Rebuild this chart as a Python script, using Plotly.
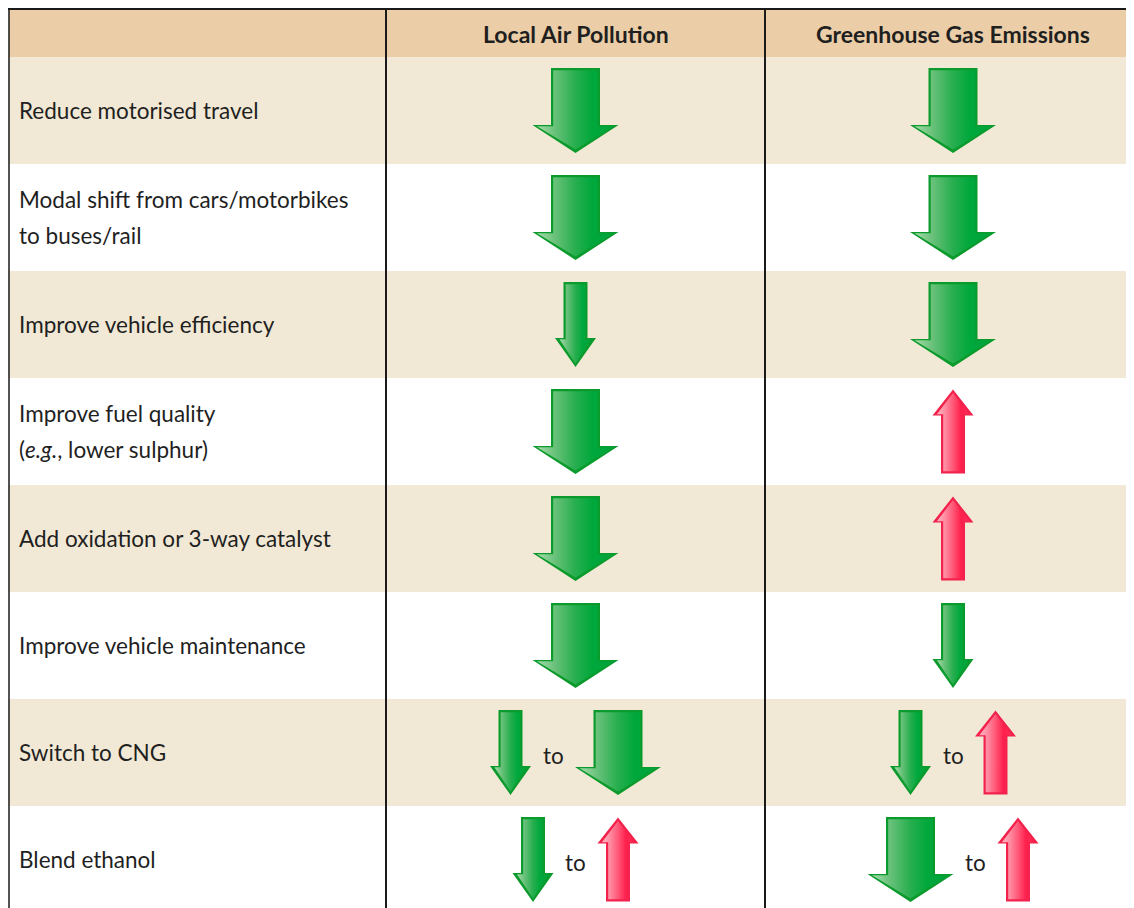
import plotly.graph_objects as go

# ---------------- data ----------------
measures = [
    ["Reduce motorised travel"],
    ["Modal shift from cars/motorbikes", "to buses/rail"],
    ["Improve vehicle efficiency"],
    ["Improve fuel quality", "(<i>e.g.</i>, lower sulphur)"],
    ["Add oxidation or 3-way catalyst"],
    ["Improve vehicle maintenance"],
    ["Switch to CNG"],
    ["Blend ethanol"],
]
impact_columns = ["Local Air Pollution", "Greenhouse Gas Emissions"]
air_pollution_effect = [
    ["down_large"], ["down_large"], ["down_small"], ["down_large"],
    ["down_large"], ["down_large"], ["down_small", "down_large"], ["down_small", "up"],
]
ghg_effect = [
    ["down_large"], ["down_large"], ["down_large"], ["up"],
    ["up"], ["down_small"], ["down_small", "up"], ["down_large", "up"],
]
range_word = "to"

# ---------------- layout / style ----------------
W, H = 1134, 908
PAGE_OFFSET = 8  # default body margin of the page
HEADER_TOP, HEADER_BOTTOM, ROW_H = 8, 57, 107
COL_EDGES = [8.5, 386, 765, 1134]
COL_CENTERS = [575.5, 953]
LABEL_X = 20
LINE_GAP = 36
GAP = 12
TO_W = 20
HEADER_BG = "#EBCEA7"
STRIPE_BG = "#F1E9D5"
LINE_COLOR = "#1a1a1a"
TEXT_COLOR = "#1f1f1f"
FONT = "Lato"
LABEL_SIZE = 22.5
HEADER_SIZE = 23

ARROWS = {
    "down_large": dict(ws=24.5, wh=43, hh=28, L=85, up=False),
    "down_small": dict(ws=12, wh=20.5, hh=29, L=85, up=False),
    "up": dict(ws=12, wh=20.5, hh=26, L=84, up=True),
}
GREEN = dict(edge="#0b9a2c",
             scale=[[0, "#a5dcab"], [0.22, "#6cc27c"], [0.5, "#27ae4e"], [0.72, "#00a83c"], [1, "#00a23a"]])
RED = dict(edge="#f2224c",
           scale=[[0, "#ffb7c3"], [0.22, "#ff92a6"], [0.52, "#ff5474"], [0.75, "#ff1f4c"], [1, "#ff2d57"]])


def arrow_points(kind, cx, cy, inset=0.0):
    a = ARROWS[kind]
    ws, wh, hh, L = a["ws"] - inset, a["wh"] - 2 * inset, a["hh"], a["L"]
    top = cy - L / 2 + inset
    bot = cy + L / 2 - 1.6 * inset
    base = cy + L / 2 - hh + 0.6 * inset
    xs = [cx - ws, cx + ws, cx + ws, cx + wh, cx, cx - wh, cx - ws, cx - ws]
    ys = [top, top, base, base, bot, base, base, top]
    if a["up"]:
        ys = [2 * cy - y for y in ys]
    return xs, ys


fig = go.Figure()


def add_arrow(kind, cx, cy):
    pal = RED if ARROWS[kind]["up"] else GREEN
    xs, ys = arrow_points(kind, cx, cy)
    fig.add_trace(go.Scatter(x=xs, y=ys, fill="toself", mode="none", fillcolor=pal["edge"],
                             hoverinfo="skip", showlegend=False))
    xs, ys = arrow_points(kind, cx, cy, inset=2.2)
    fig.add_trace(go.Scatter(x=xs, y=ys, fill="toself", mode="none",
                             fillgradient=dict(type="horizontal", colorscale=pal["scale"]),
                             hoverinfo="skip", showlegend=False))


def item_width(kind):
    return 2 * ARROWS[kind]["wh"]


shapes = []
annotations = []

# header band
shapes.append(dict(type="rect", x0=COL_EDGES[0], x1=W, y0=HEADER_TOP, y1=HEADER_BOTTOM,
                   fillcolor=HEADER_BG, line_width=0, layer="below"))
for ci, name in enumerate(impact_columns):
    annotations.append(dict(x=COL_CENTERS[ci], y=(HEADER_TOP + HEADER_BOTTOM) / 2 + 1, text=f"<b>{name}</b>",
                            showarrow=False, xanchor="center", yanchor="middle",
                            font=dict(family=FONT, size=HEADER_SIZE, color=TEXT_COLOR)))

effects = [air_pollution_effect, ghg_effect]
for ri, lines in enumerate(measures):
    y0 = HEADER_BOTTOM + ri * ROW_H
    y1 = y0 + ROW_H
    cy = (y0 + y1) / 2
    if ri % 2 == 0:
        shapes.append(dict(type="rect", x0=COL_EDGES[0], x1=W, y0=y0, y1=y1,
                           fillcolor=STRIPE_BG, line_width=0, layer="below"))
    n = len(lines)
    for li, line in enumerate(lines):
        ly = cy + (li - (n - 1) / 2) * LINE_GAP
        annotations.append(dict(x=LABEL_X, y=ly, text=line, showarrow=False,
                                xanchor="left", yanchor="middle", xshift=-3,
                                font=dict(family=FONT, size=LABEL_SIZE, color=TEXT_COLOR)))
    for ci in range(2):
        items = effects[ci][ri]
        cx = COL_CENTERS[ci]
        if len(items) == 1:
            add_arrow(items[0], cx, cy)
        else:
            total = item_width(items[0]) + GAP + TO_W + GAP + item_width(items[1])
            left = cx - total / 2
            c1 = left + item_width(items[0]) / 2
            ct = left + item_width(items[0]) + GAP + TO_W / 2
            c2 = left + item_width(items[0]) + GAP + TO_W + GAP + item_width(items[1]) / 2
            add_arrow(items[0], c1, cy)
            add_arrow(items[1], c2, cy)
            annotations.append(dict(x=ct, y=cy + 3, text=range_word, showarrow=False,
                                    xanchor="center", yanchor="middle",
                                    font=dict(family=FONT, size=LABEL_SIZE, color=TEXT_COLOR)))

# grid lines
shapes.append(dict(type="line", x0=COL_EDGES[0] - 1, x1=W, y0=HEADER_TOP + 1, y1=HEADER_TOP + 1,
                   line=dict(color=LINE_COLOR, width=2)))
shapes.append(dict(type="line", x0=COL_EDGES[0] + 0.5, x1=COL_EDGES[0] + 0.5, y0=HEADER_TOP, y1=H,
                   line=dict(color=LINE_COLOR, width=1.5)))
for xe in COL_EDGES[1:3]:
    shapes.append(dict(type="line", x0=xe, x1=xe, y0=HEADER_TOP, y1=H,
                       line=dict(color=LINE_COLOR, width=2)))

fig.update_layout(
    width=W - PAGE_OFFSET, height=H - PAGE_OFFSET, margin=dict(l=0, r=0, t=0, b=0),
    paper_bgcolor="white", plot_bgcolor="white",
    xaxis=dict(range=[PAGE_OFFSET, W], visible=False, fixedrange=True),
    yaxis=dict(range=[H, PAGE_OFFSET], visible=False, fixedrange=True),
    shapes=shapes, annotations=annotations, showlegend=False,
)
fig.write_html("out.html", config={"displayModeBar": False})
